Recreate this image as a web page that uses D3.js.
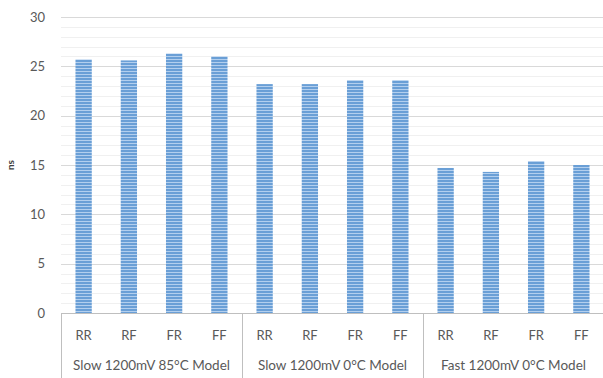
<!DOCTYPE html>
<html><head><meta charset="utf-8">
<script src="https://cdn.jsdelivr.net/npm/d3@7"></script>
<style>html,body{margin:0;padding:0;background:#fff;}svg{display:block;}</style>
</head><body>
<svg id="c" width="603" height="378"></svg>
<script>
const groups = ["Slow 1200mV 85°C Model", "Slow 1200mV 0°C Model", "Fast 1200mV 0°C Model"];
const transitions = ["RR", "RF", "FR", "FF"];
const values = [
  [25.7, 25.6, 26.3, 26.0],
  [23.2, 23.2, 23.6, 23.6],
  [14.7, 14.3, 15.4, 15.0]
];
const yTicks = [0, 5, 10, 15, 20, 25, 30];
const yLabel = "ns";

(function () {
const svg = d3.select("#c");
const font = "Lato, 'Open Sans', sans-serif";
const textColor = "#595959";

const defs = svg.append("defs");
const pat = defs.append("pattern").attr("id", "stripes").attr("patternUnits", "userSpaceOnUse")
  .attr("width", 6).attr("height", 3);
pat.append("rect").attr("width", 6).attr("height", 3).attr("fill", "#6a9fd6");
pat.append("rect").attr("y", 2).attr("width", 6).attr("height", 1).attr("fill", "#b3cfee");

const mLeft = 61, mRight = 604, mTop = 17, mBottom = 313;
const y = d3.scaleLinear().domain([0, 30]).range([mBottom, mTop]);
const flat = [];
groups.forEach((g, gi) => transitions.forEach((t, ti) => flat.push({g, gi, t, ti, key: gi + "-" + t, v: values[gi][ti]})));
const x = d3.scaleBand().domain(flat.map(d => d.key)).range([mLeft, mRight]).paddingInner(0.64).paddingOuter(0.32);
const xg = d3.scaleBand().domain(groups).range([mLeft, mRight]);

svg.append("g").selectAll("line").data(d3.range(0, 31, 1).filter(v => v % 5 !== 0)).join("line")
  .attr("x1", mLeft).attr("x2", mRight).attr("y1", d => Math.round(y(d)) + 0.5).attr("y2", d => Math.round(y(d)) + 0.5)
  .attr("stroke", "#f0f0f0").attr("stroke-width", 1);
svg.append("g").selectAll("line").data(yTicks.filter(v => v > 0)).join("line")
  .attr("x1", mLeft).attr("x2", mRight).attr("y1", d => Math.round(y(d)) + 0.5).attr("y2", d => Math.round(y(d)) + 0.5)
  .attr("stroke", "#d9d9d9").attr("stroke-width", 1);

const ya = svg.append("g").attr("transform", `translate(${mLeft},0)`)
  .call(d3.axisLeft(y).tickValues(yTicks).tickSize(0).tickPadding(16));
ya.select(".domain").remove();
ya.selectAll("text").attr("font-family", font).attr("font-size", 13).attr("fill", textColor);

svg.append("text").attr("transform", `translate(14,${y(15)}) rotate(-90)`)
  .attr("text-anchor", "middle").attr("font-family", font).attr("font-size", 10).attr("font-weight", "bold")
  .attr("fill", "#404040").text(yLabel);

svg.append("g").selectAll("rect").data(flat).join("rect")
  .attr("x", d => x(d.key)).attr("width", x.bandwidth())
  .attr("y", d => y(d.v)).attr("height", d => y(0) - y(d.v))
  .attr("fill", "url(#stripes)");

svg.append("line").attr("x1", mLeft).attr("x2", mRight).attr("y1", mBottom + 0.5).attr("y2", mBottom + 0.5)
  .attr("stroke", "#bfbfbf");
svg.append("g").selectAll("line").data(groups.concat(["end"])).join("line")
  .attr("x1", (d, i) => i < groups.length ? Math.round(xg(d)) + 0.5 : mRight - 0.5)
  .attr("x2", (d, i) => i < groups.length ? Math.round(xg(d)) + 0.5 : mRight - 0.5)
  .attr("y1", mBottom).attr("y2", 378).attr("stroke", "#bfbfbf");

svg.append("g").selectAll("text").data(flat).join("text")
  .attr("x", d => x(d.key) + x.bandwidth() / 2).attr("y", 340)
  .attr("text-anchor", "middle").attr("font-family", font).attr("font-size", 13).attr("fill", textColor)
  .text(d => d.t);
svg.append("g").selectAll("text").data(groups).join("text")
  .attr("x", d => xg(d) + xg.bandwidth() / 2).attr("y", 370)
  .attr("text-anchor", "middle").attr("font-family", font).attr("font-size", 13.5).attr("fill", textColor)
  .text(d => d);
})();
</script>
</body></html>
